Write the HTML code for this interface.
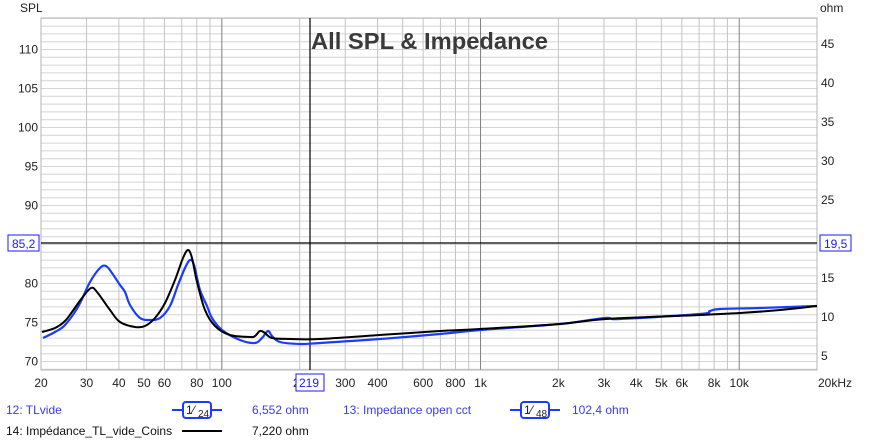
<!DOCTYPE html>
<html><head><meta charset="utf-8"><style>
body{margin:0;background:#fff;width:869px;height:442px;overflow:hidden}
svg{display:block;font-family:"Liberation Sans",sans-serif}
</style></head><body>
<svg id="s" width="869" height="442" viewBox="0 0 869 442" xmlns="http://www.w3.org/2000/svg">
<g id="grid"></g>
<rect x="41" y="18" width="776" height="352" fill="none" stroke="#b4b4b4" stroke-width="1"/>
<text x="20" y="12" font-size="12" fill="#222">SPL</text>
<text x="820" y="12" font-size="12" fill="#222">ohm</text>
<g id="labels" font-size="12" fill="#222"></g>
<text x="311" y="49" font-size="23" font-weight="bold" fill="#3a3a3a" textLength="237" lengthAdjust="spacingAndGlyphs">All SPL &amp; Impedance</text>
<line x1="310" y1="18" x2="310" y2="370" stroke="#000" stroke-width="1.2"/>
<line x1="41" y1="243" x2="817" y2="243" stroke="#000" stroke-width="1.2"/>
<rect x="8" y="235" width="31" height="16" fill="#fff" stroke="#1a1aff"/>
<text x="12" y="248" font-size="12" fill="#1a1aff">85,2</text>
<rect x="820" y="235" width="31" height="16" fill="#fff" stroke="#1a1aff"/>
<text x="824" y="248" font-size="12" fill="#1a1aff">19,5</text>
<path id="blue" fill="none" stroke="#1a3cff" stroke-width="2.2" stroke-linejoin="round"/>
<path id="black" fill="none" stroke="#000" stroke-width="2" stroke-linejoin="round"/>
<rect x="296" y="374" width="28" height="17" fill="#fff" stroke="#1a1aff"/>
<text x="299" y="387" font-size="12" fill="#1a1aff">219</text>
<g font-size="12">
<text x="6" y="414" fill="#3a3af0">12: TLvide</text>
<line x1="172" y1="410" x2="222" y2="410" stroke="#1a3cff" stroke-width="2"/>
<rect x="183" y="402" width="28" height="16" rx="3" fill="#fff" stroke="#1a3cff" stroke-width="2"/>
<text x="186" y="414" font-size="12" fill="#222">1⁄</text><text x="198" y="417" font-size="10" fill="#222">24</text>
<text x="252" y="414" fill="#3a3af0">6,552 ohm</text>
<text x="343" y="414" fill="#3a3af0">13: Impedance open cct</text>
<line x1="510" y1="410" x2="560" y2="410" stroke="#1a3cff" stroke-width="2"/>
<rect x="521" y="402" width="28" height="16" rx="3" fill="#fff" stroke="#1a3cff" stroke-width="2"/>
<text x="524" y="414" font-size="12" fill="#222">1⁄</text><text x="536" y="417" font-size="10" fill="#222">48</text>
<text x="572" y="414" fill="#3a3af0">102,4 ohm</text>
<text x="6" y="435" fill="#111">14: Impédance_TL_vide_Coins</text>
<line x1="182" y1="431" x2="222" y2="431" stroke="#000" stroke-width="2"/>
<text x="252" y="435" fill="#111">7,220 ohm</text>
</g>
</svg>
<script>
var NS="http://www.w3.org/2000/svg",g=document.getElementById('grid'),L=document.getElementById('labels');
function ln(x1,y1,x2,y2,c){var e=document.createElementNS(NS,'line');e.setAttribute('x1',x1);e.setAttribute('y1',y1);e.setAttribute('x2',x2);e.setAttribute('y2',y2);e.setAttribute('stroke',c);e.setAttribute('stroke-width',1);g.appendChild(e);}
function tx(x,y,t,a){var e=document.createElementNS(NS,'text');e.setAttribute('x',x);e.setAttribute('y',y);if(a)e.setAttribute('text-anchor',a);e.textContent=t;L.appendChild(e);}
for(var v=69;v<=114;v++){var y=49.5+(110-v)*7.8;if(y>18&&y<370)ln(41,y,817,y,'#d4d4d4');}
function fx(f){return 41+258.7*Math.log10(f/20);}
[20,30,40,50,60,70,80,90,200,300,400,500,600,700,800,900,2000,3000,4000,5000,6000,7000,8000,9000].forEach(function(f){ln(fx(f),18,fx(f),370,'#c4c4c4');});
[100,1000,10000].forEach(function(f){ln(fx(f),18,fx(f),370,'#808080');});
[110,105,100,95,90,80,75,70].forEach(function(v){tx(38,49.5+(110-v)*7.8+4,v,'end');});
for(var o=45;o>=5;o-=5){if(o!=20)tx(821,44+(45-o)*7.8+4,o);}
var fl=[[20,'20'],[30,'30'],[40,'40'],[50,'50'],[60,'60'],[80,'80'],[100,'100'],[300,'300'],[400,'400'],[600,'600'],[800,'800'],[1000,'1k'],[2000,'2k'],[3000,'3k'],[4000,'4k'],[5000,'5k'],[6000,'6k'],[8000,'8k'],[10000,'10k']];
fl.forEach(function(p){tx(fx(p[0]),387,p[1],'middle');});
tx(293,387,'2');tx(835,387,'20kHz','middle');
function smooth(s){var p=s.trim().split(/\s+/).map(function(q){return q.split(',').map(Number);});
var d='M'+p[0][0]+','+p[0][1];
for(var i=0;i<p.length-1;i++){var p0=p[i-1]||p[i],p1=p[i],p2=p[i+1],p3=p[i+2]||p2;
var c1x=p1[0]+(p2[0]-p0[0])/6,c1y=p1[1]+(p2[1]-p0[1])/6,c2x=p2[0]-(p3[0]-p1[0])/6,c2y=p2[1]-(p3[1]-p1[1])/6;
d+=' C'+c1x.toFixed(1)+','+c1y.toFixed(1)+' '+c2x.toFixed(1)+','+c2y.toFixed(1)+' '+p2[0]+','+p2[1];}
return d;}
document.getElementById('blue').setAttribute('d',smooth("43,338 55,332 65,325 78,307 90,282 100,268 106,266 112,273 120,285 125,292 130,305 140,318 150,320 160,318 170,306 178,285 185,268 190,260 194,265 200,290 207,306 212,318 222,330 240,340 255,343 262,338 268,331 272,336 280,342 300,344 320,343 380,339 440,334 480,330 560,324 605,318 620,319 700,314 710,311 720,309 760,308 817,306"));
document.getElementById('black').setAttribute('d',smooth("42,332 55,328 65,321 72,312 82,298 91,288 97,292 110,310 120,322 135,327 145,326 155,318 165,303 175,280 183,258 188,250 192,258 197,282 205,310 215,326 230,335 250,337 255,336 260,331 265,333 272,338 290,339 320,339 380,335 440,331 480,329 560,324 606,319 700,315 740,313 780,310 817,306"));
</script>
</body></html>
